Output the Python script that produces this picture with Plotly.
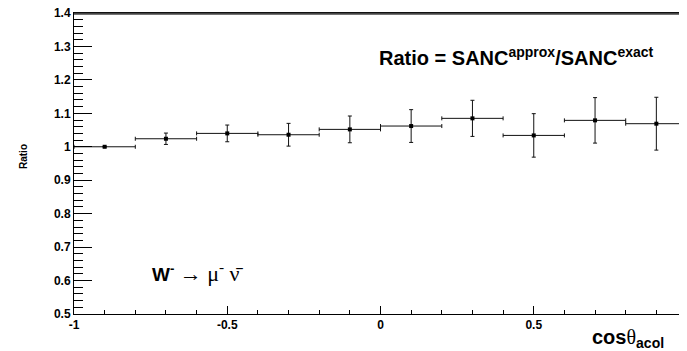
import plotly.graph_objects as go

# ---- data ----
bin_centers = [-0.9, -0.7, -0.5, -0.3, -0.1, 0.1, 0.3, 0.5, 0.7, 0.9]
bin_halfwidth = [0.1] * 10
ratio = [1.000, 1.024, 1.040, 1.036, 1.052, 1.062, 1.085, 1.034, 1.079, 1.069]
ratio_err = [0.001, 0.017, 0.025, 0.034, 0.040, 0.049, 0.054, 0.065, 0.068, 0.079]

x_tickvals = [-1, -0.5, 0, 0.5, 1]
x_ticktext = ["-1", "-0.5", "0", "0.5", "1"]
y_tickvals = [0.5, 0.6, 0.7, 0.8, 0.9, 1.0, 1.1, 1.2, 1.3, 1.4]
y_ticktext = ["0.5", "0.6", "0.7", "0.8", "0.9", "1", "1.1", "1.2", "1.3", "1.4"]

# page offset of the figure inside the browser window (default body margin)
OX, OY = 8, 8
W, H = 687, 351
# target plot area in window pixels: left 74, top 13, bottom 314, right 687
L = 74 - OX
T = 13 - OY
B = H - (314 - OY)
R = W - (687 - OX)

fig = go.Figure()
fig.add_trace(go.Scatter(
    x=bin_centers, y=ratio, mode="markers",
    marker=dict(symbol="square", size=4, color="black"),
    error_x=dict(type="data", array=bin_halfwidth, color="#111", thickness=1, width=2),
    error_y=dict(type="data", array=ratio_err, color="#111", thickness=1, width=2),
    showlegend=False, cliponaxis=False,
))

font_family = "Liberation Sans, Arial, sans-serif"

pw = W - L - R
ph = H - T - B

fig.update_layout(
    width=W, height=H,
    margin=dict(l=L, r=R, t=T, b=B, autoexpand=False),
    paper_bgcolor="white", plot_bgcolor="white",
    font=dict(family=font_family, color="black"),
    xaxis=dict(
        range=[-1, 1], tickvals=x_tickvals, ticktext=x_ticktext,
        ticks="inside", ticklen=8, tickwidth=1, tickcolor="black",
        minor=dict(dtick=0.1, tick0=-1, ticks="inside", ticklen=4, tickwidth=1, tickcolor="black"),
        showline=True, linecolor="black", linewidth=1, mirror=True,
        showgrid=False, zeroline=False, ticklabeloverflow="allow", automargin=False,
        tickfont=dict(size=12, family=font_family, weight="bold"),
    ),
    yaxis=dict(
        range=[0.5, 1.4], tickvals=y_tickvals, ticktext=y_ticktext,
        ticks="inside", ticklen=18, tickwidth=1, tickcolor="black",
        minor=dict(dtick=0.02, tick0=0.5, ticks="inside", ticklen=9, tickwidth=1, tickcolor="black"),
        showline=True, linecolor="black", linewidth=1,
        showgrid=False, zeroline=False, ticklabeloverflow="allow", automargin=False,
        tickfont=dict(size=12, family=font_family, weight="bold"),
    ),
    shapes=[dict(type="line", xref="paper", yref="paper", x0=0, x1=1,
                 y0=1 - 0.75 / ph, y1=1 - 0.75 / ph,
                 layer="above", line=dict(color="#444", width=2))],
)

def px(xw):
    return (xw - OX - L) / pw

def py(yw):
    return (H - B - (yw - OY)) / ph

fig.add_annotation(
    x=px(377), y=py(57), xref="paper", yref="paper", xanchor="left", yanchor="middle",
    text="<b>Ratio = SANC<sup>approx</sup>/SANC<sup>exact</sup></b>",
    showarrow=False, font=dict(size=20, family=font_family),
)
fig.add_annotation(
    x=px(150), y=py(272), xref="paper", yref="paper", xanchor="left", yanchor="middle",
    text=("<b>W</b><sup><b>-</b></sup> "
          "<span style='font-family:Liberation Serif;font-size:22px'>\u2192 \u03bc<sup>-</sup> \u03bd\u0304</span>"),
    showarrow=False, font=dict(size=19, family=font_family),
)
fig.add_annotation(
    x=px(666), y=py(338), xref="paper", yref="paper", xanchor="right", yanchor="middle",
    text="<b>cos</b><span style='font-family:Liberation Serif'>\u03b8</span><sub><b>acol</b></sub>",
    showarrow=False, font=dict(size=20, family=font_family),
)
fig.add_annotation(
    x=px(23), y=py(157), xref="paper", yref="paper", xanchor="center", yanchor="middle",
    text="<b>Ratio</b>", textangle=-90,
    showarrow=False, font=dict(size=10, family=font_family),
)

fig.write_html("out.html")
